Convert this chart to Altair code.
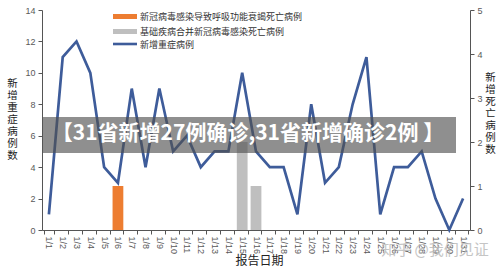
import altair as alt
import pandas as pd

dates = [f"1/{i}" for i in range(1, 32)]
severe = [1, 11, 12, 10, 4, 3, 9, 4, 9, 5, 6, 4, 5, 5, 10, 5, 4, 4, 1, 8, 3, 4, 8, 11, 1, 4, 4, 5, 2, 0, 2]
resp_dates = ["1/6"]
resp_values = [1]
basic_dates = ["1/15", "1/16"]
basic_values = [2, 1]

series_names = ["新冠病毒感染导致呼吸功能衰竭死亡病例", "基础疾病合并新冠病毒感染死亡病例", "新增重症病例"]
banner_text = "【31省新增27例确诊,31省新增确诊2例 】"
watermark = "知乎 @我们见证"

FONT = "Noto Sans CJK SC"
NUMFONT = "Liberation Sans"

line_df = pd.DataFrame({"date": dates, "severe": severe})
bar_df = pd.DataFrame({
    "date": resp_dates + basic_dates,
    "deaths": resp_values + basic_values,
    "series": [series_names[0]] * len(resp_dates) + [series_names[1]] * len(basic_dates),
})

xenc = alt.X("date:N", sort=dates,
             scale=alt.Scale(domain=dates, paddingInner=0.22, paddingOuter=0.11),
             axis=alt.Axis(title="报告日期", labelAngle=90, labelFontSize=9, labelFont=NUMFONT,
                           labelColor="#595959", tickBand="extent", tickSize=4, labelPadding=2,
                           titleFont=FONT, titleFontSize=12, titleFontWeight="normal",
                           titleColor="#222", titleX=217, titleY=30, titleBaseline="middle",
                           domainColor="#555", tickColor="#555"))

bars = alt.Chart(bar_df).mark_bar().encode(
    x=xenc,
    y=alt.Y("deaths:Q", scale=alt.Scale(domain=[0, 5]),
            axis=alt.Axis(orient="right", values=[0, 1, 2, 3, 4, 5], grid=False,
                          title=list("新增死亡病例数"), titleAngle=0, titleX=20, titleY=67,
                          titleFont=FONT, titleFontSize=10.5, titleFontWeight="normal",
                          titleLineHeight=12, titleColor="#222", titleBaseline="middle",
                          titleAlign="center",
                          labelFont=NUMFONT, labelFontSize=9, labelColor="#595959",
                          tickSize=4, labelPadding=3, domainColor="#555", tickColor="#555")),
    color=alt.Color("series:N", scale=alt.Scale(domain=series_names[:2], range=["#ED7D31", "#BFBFBF"]),
                    legend=None),
)

line = alt.Chart(line_df).mark_line(color="#3E5C9A", strokeWidth=2.7).encode(
    x=alt.X("date:N", sort=dates),
    y=alt.Y("severe:Q", scale=alt.Scale(domain=[0, 14]),
            axis=alt.Axis(orient="left", values=list(range(0, 15, 2)), grid=False,
                          title=list("新增重症病例数"), titleAngle=0, titleX=-30, titleY=73,
                          titleFont=FONT, titleFontSize=10.5, titleFontWeight="normal",
                          titleLineHeight=12, titleColor="#222", titleBaseline="middle",
                          titleAlign="center",
                          labelFont=NUMFONT, labelFontSize=9, labelColor="#595959",
                          tickSize=4, labelPadding=3, domainColor="#555", tickColor="#555")),
)

def one(val):
    return pd.DataFrame({"t": [val]})

sw1 = alt.Chart(one(series_names[0])).mark_rect(color="#ED7D31").encode(
    x=alt.value(71), x2=alt.value(95), y=alt.value(4), y2=alt.value(9))
sw2 = alt.Chart(one(series_names[1])).mark_rect(color="#BFBFBF").encode(
    x=alt.value(71), x2=alt.value(95), y=alt.value(19), y2=alt.value(24))
sw3 = alt.Chart(one(series_names[2])).mark_rule(color="#3E5C9A", strokeWidth=2.6).encode(
    x=alt.value(71), x2=alt.value(95), y=alt.value(34))

def legend_text(val, y):
    return alt.Chart(one(val)).mark_text(align="left", baseline="middle", font=FONT, fontSize=9,
                                         color="#333").encode(
        text="t:N", x=alt.value(98), y=alt.value(y))

lt1 = legend_text(series_names[0], 6.5)
lt2 = legend_text(series_names[1], 21.5)
lt3 = legend_text(series_names[2], 34.5)

banner = alt.Chart(one(banner_text)).mark_rect(color="#505050", opacity=0.64).encode(
    x=alt.value(1), x2=alt.value(414), y=alt.value(107), y2=alt.value(143))
banner_t = alt.Chart(one(banner_text)).mark_text(font=FONT, fontSize=21, fontWeight="bold",
                                                 color="white", align="center", baseline="middle").encode(
    text="t:N", x=alt.value(206), y=alt.value(124))

wm = alt.Chart(one(watermark)).mark_text(font=FONT, fontSize=15, color="#bbbbbb", opacity=0.85,
                                         align="center", baseline="middle").encode(
    text="t:N", x=alt.value(393), y=alt.value(240))

chart = alt.layer(bars, line, sw1, sw2, sw3, lt1, lt2, lt3, banner, banner_t, wm).resolve_scale(
    y="independent"
).properties(
    width=428, height=220,
    autosize=alt.AutoSizeParams(type="none"),
    padding={"left": 42, "top": 10, "right": 30, "bottom": 41},
    background="white",
).configure_view(stroke=None)

chart.save("out.html", embed_options={"renderer": "svg", "actions": False})
